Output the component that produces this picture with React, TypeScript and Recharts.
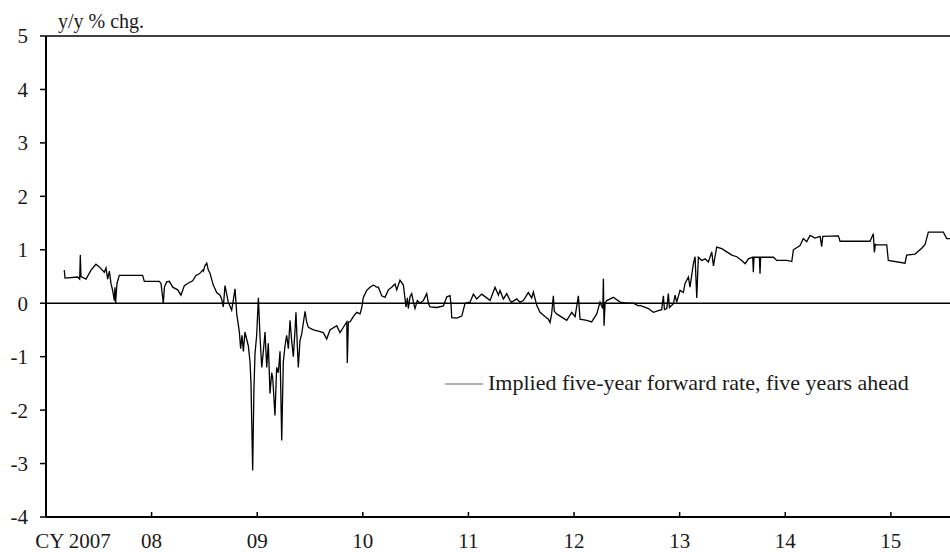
import { Line, LineChart, ReferenceLine, XAxis, YAxis } from "recharts";

// [decimal year, y/y % chg.]
const y2007: [number, number][] = [
  [2007.173, 0.62], [2007.18, 0.47], [2007.3, 0.49], [2007.319, 0.45], [2007.325, 0.9],
  [2007.331, 0.5], [2007.379, 0.45], [2007.426, 0.62], [2007.473, 0.73], [2007.505, 0.68],
  [2007.552, 0.58], [2007.568, 0.66], [2007.584, 0.45], [2007.6, 0.6], [2007.615, 0.37],
  [2007.631, 0.24], [2007.647, 0.05], [2007.653, 0.3], [2007.659, 0.0], [2007.672, 0.37],
  [2007.694, 0.52], [2007.915, 0.52], [2007.931, 0.41],
];

const y2008: [number, number][] = [
  [2008.073, 0.41], [2008.089, 0.37], [2008.111, 0.0], [2008.121, 0.3], [2008.143, 0.4],
  [2008.168, 0.41], [2008.2, 0.3], [2008.247, 0.25], [2008.278, 0.15], [2008.31, 0.33],
  [2008.341, 0.37], [2008.389, 0.42], [2008.42, 0.52], [2008.452, 0.55], [2008.484, 0.62],
  [2008.49, 0.6], [2008.505, 0.7], [2008.522, 0.75], [2008.537, 0.62], [2008.553, 0.56],
  [2008.584, 0.34], [2008.616, 0.2], [2008.648, 0.15], [2008.663, 0.08], [2008.679, -0.07],
  [2008.695, 0.33], [2008.726, 0.02], [2008.758, -0.13], [2008.773, 0.05], [2008.79, 0.27],
  [2008.806, -0.2], [2008.831, -0.54], [2008.843, -0.85], [2008.856, -0.6], [2008.869, -0.9],
  [2008.884, -0.54], [2008.916, -0.8], [2008.932, -1.1], [2008.941, -1.5], [2008.957, -3.13],
  [2008.969, -1.6], [2008.979, -0.94], [2008.995, -0.6],
];

const y2009: [number, number][] = [
  [2009.011, 0.1], [2009.027, -0.64], [2009.043, -1.2], [2009.058, -0.9], [2009.074, -0.54],
  [2009.09, -1.2], [2009.105, -0.75], [2009.121, -1.69], [2009.137, -1.3], [2009.147, -1.4],
  [2009.159, -1.8], [2009.168, -2.1], [2009.184, -1.2], [2009.2, -1.3], [2009.216, -0.9],
  [2009.232, -2.57], [2009.247, -1.1], [2009.263, -0.8], [2009.279, -0.6], [2009.295, -0.85],
  [2009.311, -0.32], [2009.326, -0.7], [2009.342, -1.0], [2009.358, -0.5], [2009.367, -0.17],
  [2009.38, -0.8], [2009.389, -1.2], [2009.405, -0.7], [2009.421, -0.58], [2009.453, -0.15],
  [2009.468, -0.35], [2009.484, -0.45], [2009.532, -0.5], [2009.579, -0.52], [2009.626, -0.55],
  [2009.658, -0.67], [2009.689, -0.5], [2009.753, -0.42], [2009.784, -0.55], [2009.816, -0.45],
  [2009.848, -0.35], [2009.853, -1.12], [2009.863, -0.35], [2009.879, -0.35], [2009.91, -0.25],
  [2009.942, -0.17], [2009.974, -0.2], [2009.99, -0.08],
];

const y2010: [number, number][] = [
  [2010.005, 0.11], [2010.037, 0.24], [2010.068, 0.3], [2010.1, 0.34], [2010.131, 0.3],
  [2010.147, 0.3], [2010.179, 0.14], [2010.21, 0.11], [2010.242, 0.25], [2010.273, 0.3],
  [2010.305, 0.36], [2010.321, 0.25], [2010.352, 0.43], [2010.384, 0.34], [2010.409, -0.07],
  [2010.422, 0.1], [2010.431, -0.1], [2010.447, 0.12], [2010.463, 0.18], [2010.479, 0.02],
  [2010.494, -0.1], [2010.516, 0.05], [2010.542, 0.0], [2010.573, 0.05], [2010.605, 0.18],
  [2010.621, 0.0], [2010.636, -0.07], [2010.7, -0.08], [2010.763, -0.05], [2010.795, 0.12],
  [2010.826, 0.14], [2010.836, -0.05], [2010.842, -0.27], [2010.889, -0.28], [2010.937, -0.24],
  [2010.968, 0.0],
];

const y2011: [number, number][] = [
  [2011.015, 0.02], [2011.047, 0.17], [2011.078, 0.08], [2011.126, 0.17], [2011.173, 0.1],
  [2011.205, 0.05], [2011.252, 0.3], [2011.284, 0.15], [2011.299, 0.24], [2011.331, 0.08],
  [2011.363, 0.18], [2011.394, 0.05], [2011.41, 0.02], [2011.457, 0.08], [2011.489, 0.02],
  [2011.52, 0.05], [2011.567, 0.2], [2011.599, 0.1], [2011.615, 0.21], [2011.647, -0.04],
  [2011.678, -0.17], [2011.725, -0.25], [2011.757, -0.3], [2011.773, -0.36], [2011.788, -0.2],
  [2011.804, 0.14], [2011.813, -0.15], [2011.836, -0.2], [2011.883, -0.26], [2011.931, -0.32],
  [2011.978, -0.17],
];

const y2012: [number, number][] = [
  [2012.01, -0.25], [2012.041, 0.14], [2012.057, -0.3], [2012.12, -0.32], [2012.167, -0.35],
  [2012.199, -0.25], [2012.215, -0.2], [2012.246, 0.02], [2012.272, -0.1], [2012.278, 0.46],
  [2012.284, -0.42], [2012.294, 0.0], [2012.31, 0.05], [2012.372, 0.11], [2012.436, 0.02],
  [2012.499, 0.0], [2012.562, 0.0], [2012.609, -0.05], [2012.625, -0.04], [2012.704, -0.1],
  [2012.751, -0.17], [2012.798, -0.14], [2012.83, -0.12], [2012.846, 0.14], [2012.856, -0.12],
  [2012.878, -0.1], [2012.893, 0.18], [2012.903, -0.08], [2012.941, -0.01], [2012.957, 0.15],
  [2012.972, 0.02],
];

const y2013: [number, number][] = [
  [2013.004, 0.24], [2013.035, 0.2], [2013.051, 0.37], [2013.083, 0.49], [2013.098, 0.3],
  [2013.13, 0.74], [2013.146, 0.87], [2013.162, 0.1], [2013.177, 0.86], [2013.209, 0.8],
  [2013.241, 0.83], [2013.272, 0.77], [2013.304, 0.96], [2013.32, 0.7], [2013.351, 1.05],
  [2013.399, 1.02], [2013.446, 0.96], [2013.494, 0.9], [2013.541, 0.87], [2013.588, 0.8],
  [2013.62, 0.74], [2013.651, 0.83], [2013.692, 0.86], [2013.698, 0.58], [2013.704, 0.86],
  [2013.755, 0.86], [2013.761, 0.55], [2013.767, 0.86], [2013.888, 0.86], [2013.919, 0.8],
];

const y2014: [number, number][] = [
  [2014.014, 0.8], [2014.062, 0.78], [2014.077, 1.0], [2014.14, 1.08], [2014.171, 1.21],
  [2014.203, 1.15], [2014.235, 1.27], [2014.282, 1.22], [2014.33, 1.25], [2014.345, 1.06],
  [2014.355, 1.25], [2014.503, 1.26], [2014.519, 1.16], [2014.803, 1.16], [2014.834, 1.3],
  [2014.844, 0.95], [2014.853, 1.1], [2014.866, 1.09], [2014.961, 1.09], [2014.976, 0.8],
];

const y2015: [number, number][] = [
  [2015.134, 0.75], [2015.15, 0.9], [2015.229, 0.92], [2015.292, 1.03], [2015.324, 1.1],
  [2015.355, 1.33], [2015.497, 1.33], [2015.529, 1.21], [2015.56, 1.21],
];

const xTicks = [2007, 2008, 2009, 2010, 2011, 2012, 2013, 2014, 2015];
const xTickLabels = ["CY 2007", "08", "09", "10", "11", "12", "13", "14", "15"];
const yTicks = [-4, -3, -2, -1, 0, 1, 2, 3, 4, 5];

const seriesName = "Implied five-year forward rate, five years ahead";

const data = [...y2007, ...y2008, ...y2009, ...y2010, ...y2011, ...y2012, ...y2013, ...y2014, ...y2015].map(
  ([t, v]) => ({ t, v })
);

const FONT = "'Liberation Serif', 'Times New Roman', serif";
const TEXT = "#1a1a1a";

function YearTick(props: any) {
  const { x, y, payload, index } = props;
  const label = xTickLabels[index] ?? String(payload.value);
  const first = index === 0;
  return (
    <g>
      {!first && <line x1={x} x2={x} y1={y} y2={y - 5} stroke="#000" strokeWidth={1.5} />}
      <text
        x={first ? x + 27 : x}
        y={y + 31}
        textAnchor="middle"
        fontFamily={FONT}
        fontSize={21}
        fill={TEXT}
      >
        {label}
      </text>
    </g>
  );
}

function UnitLabel(props: any) {
  const vb = props.viewBox ?? { x: 0, y: 36, width: 46 };
  return (
    <text x={vb.x + vb.width + 12} y={vb.y - 8} fontFamily={FONT} fontSize={20} fill={TEXT}>
      y/y % chg.
    </text>
  );
}

export default function App() {
  return (
    <div style={{ position: "absolute", left: 0, top: 0, width: 950, height: 552, background: "#fff" }}>
      <LineChart width={950} height={552} data={data} margin={{ top: 36, right: 0, bottom: 0, left: 0 }}>
        <XAxis
          dataKey="t"
          type="number"
          domain={[2007, 2015.56]}
          ticks={xTicks}
          allowDataOverflow
          height={35}
          tickSize={0}
          tickMargin={0}
          tickLine={false}
          axisLine={{ stroke: "#000", strokeWidth: 2 }}
          tick={<YearTick />}
          interval={0}
        />
        <YAxis
          type="number"
          domain={[-4, 5]}
          ticks={yTicks}
          width={46}
          tickSize={6}
          tickMargin={12}
          axisLine={{ stroke: "#000", strokeWidth: 2 }}
          tickLine={{ stroke: "#000", strokeWidth: 1.5 }}
          tick={{ fontFamily: FONT, fontSize: 21, fill: TEXT }}
          label={<UnitLabel />}
          interval={0}
        />
        <ReferenceLine y={5} stroke="#000" strokeWidth={1.5} />
        <ReferenceLine y={0} stroke="#000" strokeWidth={1.5} />
        <Line
          type="linear"
          dataKey="v"
          name={seriesName}
          stroke="#000"
          strokeWidth={1.3}
          dot={false}
          activeDot={false}
          isAnimationActive={false}
        />
      </LineChart>
      <div style={{ position: "absolute", left: 445, top: 370 }}>
        <svg width={505} height={30}>
          <line x1={0} x2={38} y1={14} y2={14} stroke="#999" strokeWidth={1.5} />
          <text x={43} y={20} fontFamily={FONT} fontSize={22} fill={TEXT}>
            {seriesName}
          </text>
        </svg>
      </div>
    </div>
  );
}
